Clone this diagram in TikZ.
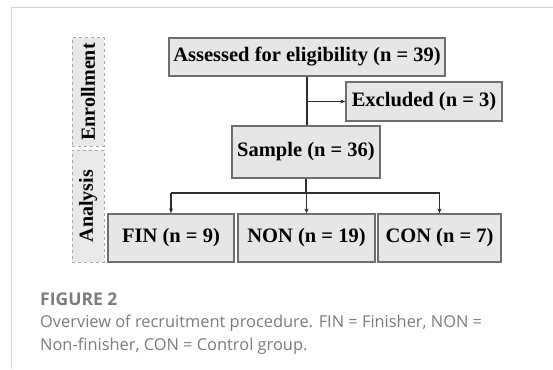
\documentclass[tikz,border=0pt]{standalone}
\usepackage{fontspec}
\setmainfont{Liberation Serif}
\newfontfamily\capfont{Open Sans}
\usetikzlibrary{arrows.meta}
\definecolor{boxfill}{HTML}{E6E6E6}
\definecolor{boxline}{HTML}{6E6E6E}
\definecolor{dashfill}{HTML}{E9E9E9}
\definecolor{dashline}{HTML}{A8A8A8}
\definecolor{framecol}{HTML}{D4D4D4}
\definecolor{capcol}{HTML}{7C7C7C}
\definecolor{linecol}{HTML}{2E2E2E}
\tikzset{
  flowbox/.style={draw=boxline, fill=boxfill, line width=1.3pt, inner sep=0pt,
    font=\fontsize{20.5}{24}\selectfont\bfseries, text=black},
  phasebox/.style={draw=dashline, fill=dashfill, dashed, line width=1pt, inner sep=0pt,
    minimum width=32pt, font=\fontsize{20}{22}\selectfont\bfseries, text=black},
  conn/.style={draw=linecol, line width=1.2pt},
  arr/.style={conn, -{Stealth[length=5pt,width=4pt]}},
  captext/.style={anchor=base west, inner sep=0pt, text=capcol}
}
\begin{document}
\begin{tikzpicture}[x=1pt,y=-1pt]
\useasboundingbox (0,0) rectangle (553,369);
\fill[white] (0,0) rectangle (553,369);
\draw[framecol, line width=1pt] (11,369) -- (11,7.5) -- (553,7.5);
% phase boxes
\node[phasebox, minimum height=108pt] (enr) at (88,92) {\rotatebox{90}{Enrollment}};
\node[phasebox, minimum height=112pt] (ana) at (88,206) {\rotatebox{90}{Analysis}};
% flow boxes
\node[flowbox, minimum width=276pt, minimum height=38pt] (A) at (307,57) {Assessed for eligibility (n = 39)};
\node[flowbox, minimum width=156pt, minimum height=39pt] (E) at (424,101.5) {Excluded (n = 3)};
\node[flowbox, minimum width=148pt, minimum height=52pt] (S) at (306,152) {Sample (n = 36)};
\node[flowbox, minimum width=126pt, minimum height=48pt] (F) at (171,238) {FIN (n = 9)};
\node[flowbox, minimum width=137pt, minimum height=48pt] (N) at (306.5,238) {NON (n = 19)};
\node[flowbox, minimum width=123pt, minimum height=48pt] (C) at (439.5,238) {CON (n = 7)};
% connectors
\coordinate (j) at (306,193);
\draw[conn] (A.south) -- (A.south |- S.north);
\draw[arr] (A.south |- E.west) -- (E.west);
\draw[conn] (S.south) -- (S.south |- j);
\draw[conn] (F.north |- j) -- (C.north |- j);
\draw[arr] (F.north |- j) -- (F.north);
\draw[arr] (N.north |- j) -- (N.north);
\draw[arr] (C.north |- j) -- (C.north);
% caption
\node[captext, font=\capfont\fontsize{17.5}{20}\selectfont\bfseries] (cap0) at (40,305) {FIGURE 2};
\node[captext, font=\capfont\fontsize{16.4}{19}\selectfont] (cap1) at (40,327) {Overview of recruitment procedure. FIN = Finisher, NON =};
\node[captext, font=\capfont\fontsize{16.4}{19}\selectfont] (cap2) at (40,350) {Non-finisher, CON = Control group.};
\end{tikzpicture}
\end{document}
